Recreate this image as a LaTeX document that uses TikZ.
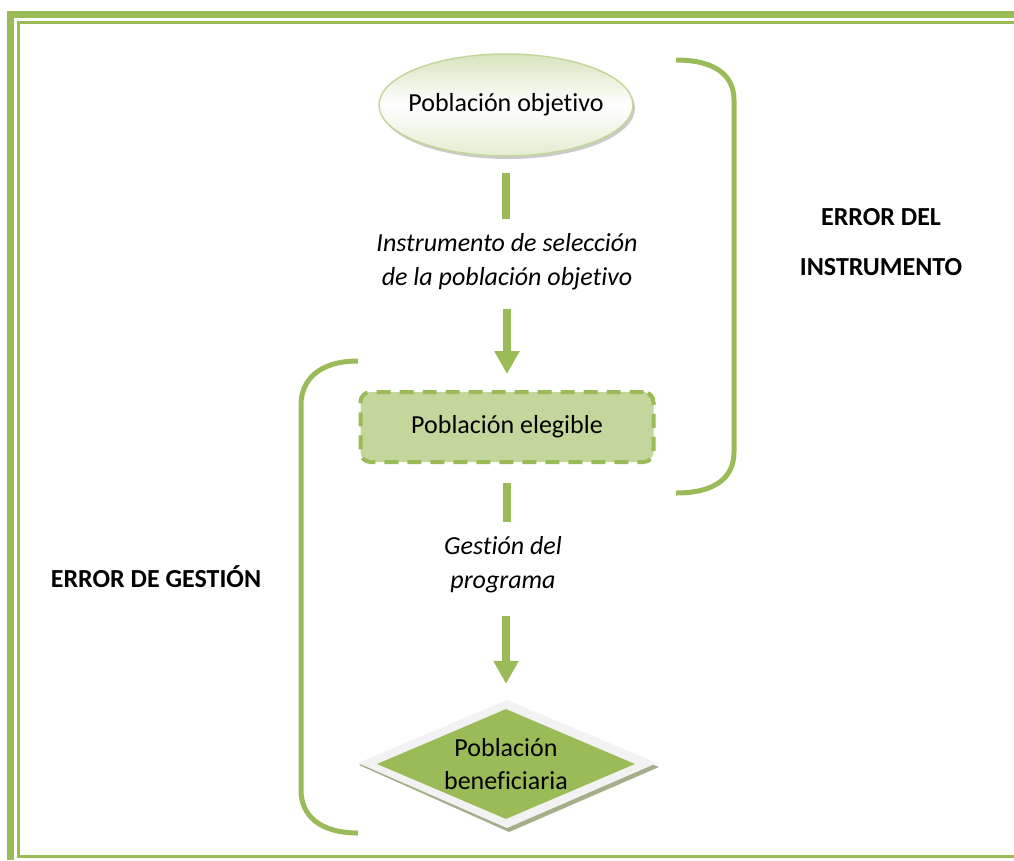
\documentclass[tikz,border=0pt]{standalone}
\usepackage{fontspec}
\setmainfont{Carlito}[Ligatures=NoCommon]
\usetikzlibrary{shapes.geometric,arrows.meta,shadows}
\definecolor{olive}{HTML}{9BBB59}
\definecolor{lightolive}{HTML}{C3D69B}
\definecolor{paleolive}{HTML}{D7E4BD}
\definecolor{frameolive}{HTML}{9BBB59}
\tikzset{
  stub/.style={draw=olive, line width=8pt},
  arr/.style={draw=olive, line width=8pt, -{Triangle[width=24pt,length=23pt]}, fill=olive},
  brace/.style={draw=olive, line width=5pt},
  lbl/.style={font=\fontsize{26}{34}\selectfont\itshape, align=center, inner sep=0pt},
  errlbl/.style={font=\fontsize{26}{50}\selectfont\bfseries, align=center, inner sep=0pt},
}
\begin{document}
\begin{tikzpicture}[x=1pt,y=-1pt]
\useasboundingbox (0,0) rectangle (1014,860);
% frame
\draw[frameolive, line width=7pt, line join=miter] (1014,14.5) -- (10.5,14.5) -- (10.5,860);
\draw[frameolive, line width=3pt, line join=miter] (1014,22.5) -- (18.5,22.5) -- (18.5,856.5) -- (1014,856.5);
% braces
\draw[brace] (676,60) .. controls (716,60) and (734,76) .. (734,100) -- (734,452) .. controls (734,477) and (716,493) .. (676,493);
\draw[brace] (358,361) .. controls (319,361) and (301,380) .. (301,405) -- (301,790) .. controls (301,815) and (319,833) .. (358,833);
% ellipse
\node[ellipse, minimum width=254pt, minimum height=102pt, inner sep=0pt, draw=lightolive, line width=1.5pt,
      top color=paleolive, bottom color=paleolive!70, middle color=white,
      drop shadow={shadow xshift=2pt, shadow yshift=-3pt, fill=black!35, opacity=0.6},
      font=\fontsize{26}{30}\selectfont] (po) at (506,105) {\makebox[0pt][c]{Población objetivo}};
% eligible box
\node[rectangle, rounded corners=10pt, minimum width=293pt, minimum height=70pt, fill=lightolive,
      draw=olive, line width=4pt, dash pattern=on 14pt off 9pt,
      font=\fontsize{26}{30}\selectfont] (pe) at (507,427) {Población elegible};
% diamond
\fill[black!35!olive!60!white] (359,765) -- (508,702) -- (659,767) -- (509,832) -- cycle;
\fill[black!5] (358,763) -- (507,700) -- (657,763) -- (507,828) -- cycle;
\node[diamond, aspect=2.35, minimum width=258pt, minimum height=110pt, inner sep=0pt, fill=olive,
      align=center, font=\fontsize{26}{33}\selectfont] (pb) at (506,764) {Población\\beneficiaria};
% labels
\node[lbl] (l1) at (507,262) {Instrumento de selección\\de la población objetivo};
\node[lbl] (l2) at (503,565) {Gestión del\\programa};
\node[errlbl] (e1) at (881,242) {ERROR DEL\\INSTRUMENTO};
\node[errlbl] (e2) at (156,577) {ERROR DE GESTIÓN};
% connectors
\draw[stub, shorten <=16pt, shorten >=15pt] (po.south) -- (po.south |- l1.north);
\draw[arr, shorten <=19pt, shorten >=16pt] (pe.north |- l1.south) -- (pe.north);
\draw[stub, shorten <=19pt, shorten >=15pt] (pe.south) -- (pe.south |- l2.north);
\draw[arr, shorten <=23pt, shorten >=25pt] (pb.north |- l2.south) -- (pb.north);
\end{tikzpicture}
\end{document}
